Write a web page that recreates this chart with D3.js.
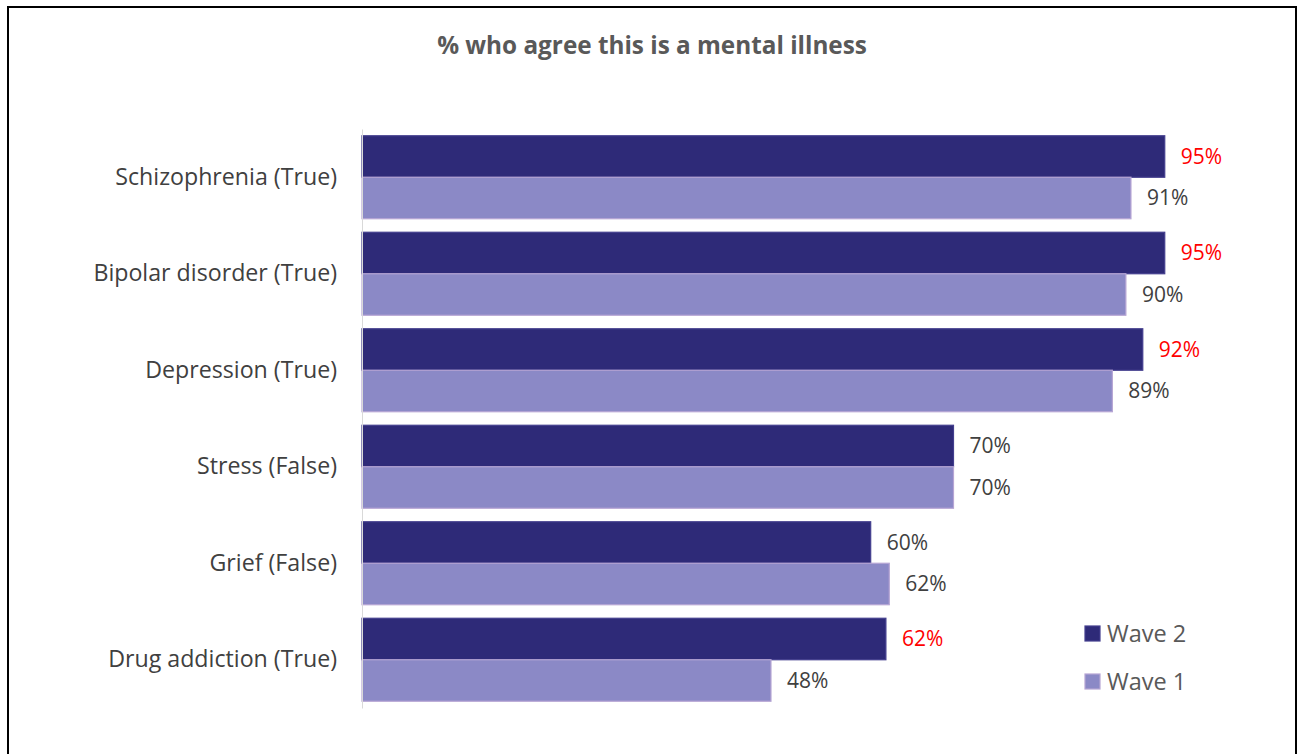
<!DOCTYPE html>
<html>
<head>
<meta charset="utf-8">
<script src="https://cdn.jsdelivr.net/npm/d3@7"></script>
<style>
  html, body { margin: 0; padding: 0; background: #fff; }
  svg { display: block; }
</style>
</head>
<body>
<svg id="chart" width="1300" height="754"></svg>
<script>
// ---- data ----
const title = "% who agree this is a mental illness";
const categories = ["Schizophrenia (True)", "Bipolar disorder (True)", "Depression (True)", "Stress (False)", "Grief (False)", "Drug addiction (True)"];
const seriesNames = ["Wave 2", "Wave 1"];
const wave2 = [95, 95, 92.4, 70, 60.2, 62];
const wave1 = [91, 90.4, 88.8, 70, 62.4, 48.4];
const wave2Highlight = [true, true, true, false, false, true];
const xDomain = [0, 100];

// ---- layout ----
const svg = d3.select("#chart");
const colors = { "Wave 2": "#2E2A78", "Wave 1": "#8B89C6" };
const strokes = { "Wave 2": "#433E8E", "Wave 1": "#B6A5D4" };

svg.append("rect")
  .attr("x", 8).attr("y", 7).attr("width", 1288).attr("height", 800)
  .attr("fill", "none").attr("stroke", "#000").attr("stroke-width", 2);

svg.append("text")
  .attr("x", 652).attr("y", 54)
  .attr("text-anchor", "middle")
  .attr("font-family", "Open Sans, sans-serif")
  .attr("font-weight", "bold")
  .attr("font-size", 24.3)
  .attr("fill", "#595959")
  .text(title);

const x = d3.scaleLinear().domain(xDomain).range([362, 1207]);
const y0 = d3.scaleBand().domain(categories).range([129, 708]).paddingInner(0.14).paddingOuter(0.07);
const y1 = d3.scaleBand().domain(seriesNames).range([0, y0.bandwidth()]);

const rows = categories.map((c, i) => ({
  cat: c,
  vals: [
    { s: "Wave 2", v: wave2[i], hi: wave2Highlight[i] },
    { s: "Wave 1", v: wave1[i], hi: false }
  ]
}));

const g = svg.append("g");
const groups = g.selectAll("g.cat").data(rows).join("g")
  .attr("transform", d => `translate(0,${y0(d.cat)})`);

groups.selectAll("rect").data(d => d.vals).join("rect")
  .attr("x", x(0))
  .attr("y", d => y1(d.s))
  .attr("width", d => x(d.v) - x(0))
  .attr("height", y1.bandwidth())
  .attr("fill", d => colors[d.s])
  .attr("stroke", d => strokes[d.s])
  .attr("stroke-width", 1.2);

groups.selectAll("text.val").data(d => d.vals).join("text")
  .attr("class", "val")
  .attr("x", d => x(d.v) + 16)
  .attr("y", d => y1(d.s) + y1.bandwidth() / 2)
  .attr("dy", "0.35em")
  .attr("font-family", "Open Sans, sans-serif")
  .attr("font-size", 21)
  .attr("fill", d => d.hi ? "#FF0000" : "#404040")
  .text(d => d3.format(".0f")(d.v) + "%");

// category axis
const yAxis = d3.axisLeft(y0).tickSize(0).tickPadding(25);
const ax = svg.append("g").attr("transform", `translate(${x(0)},0)`).call(yAxis);
ax.select(".domain").attr("stroke", "#D9D9D9").attr("stroke-width", 1);
ax.selectAll("text")
  .attr("font-family", "Open Sans, sans-serif")
  .attr("font-size", 23.2)
  .attr("fill", "#404040");

// legend
const leg = svg.append("g");
seriesNames.forEach((s, i) => {
  const yy = 626 + i * 48;
  leg.append("rect").attr("x", 1085).attr("y", yy).attr("width", 15).attr("height", 15)
    .attr("fill", colors[s]).attr("stroke", strokes[s]).attr("stroke-width", 1.2);
  leg.append("text").attr("x", 1107).attr("y", yy + 7.5).attr("dy", "0.35em")
    .attr("font-family", "Open Sans, sans-serif").attr("font-size", 23.5)
    .attr("fill", "#595959").text(s);
});
</script>
</body>
</html>
